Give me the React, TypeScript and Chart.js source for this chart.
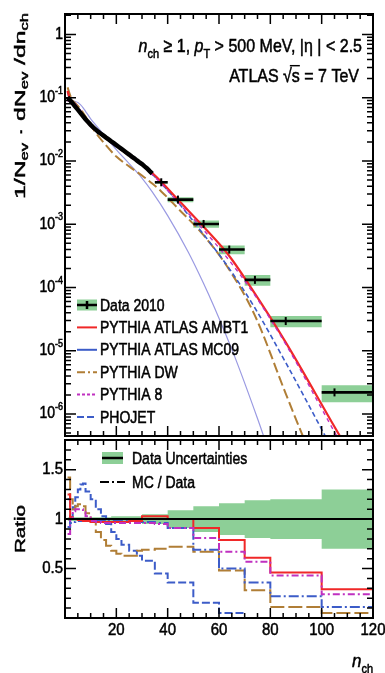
import React, { useEffect, useRef } from "react";
import { Chart, registerables } from "chart.js";

Chart.register(...registerables);

// ---------------- data ----------------
const denseN = [1, 2, 3, 4, 5, 6, 7, 8, 9, 10, 11, 12, 13, 14, 15, 16, 17, 18, 19, 20, 21, 22, 23, 24, 25, 26, 27, 28, 29, 30, 31, 32, 33, 34];
const denseValues = [0.102, 0.0912, 0.0813, 0.0724, 0.0646, 0.0575, 0.0513, 0.0457, 0.0412, 0.0372, 0.0339, 0.0313, 0.0288, 0.0269, 0.0251, 0.0234, 0.0219, 0.0204, 0.0191, 0.0178, 0.0166, 0.0155, 0.0145, 0.0135, 0.0126, 0.0117, 0.011, 0.0102, 0.0095, 0.0089, 0.0082, 0.0076, 0.0069, 0.0063];

const binLo = [35, 40, 50, 60, 70, 80, 100];
const binHi = [40, 50, 60, 70, 80, 100, 120];
const binMean = [37.5, 44, 54, 64, 74, 86, 105];
const binValues = [0.0046, 0.00245, 0.00101, 0.000398, 0.000132, 2.95e-5, 2.2e-6];
const binRelErr = [0.05, 0.09, 0.13, 0.16, 0.19, 0.2, 0.3];

const mcN = [1, 2, 3, 4, 5, 6, 7, 8, 10, 12, 15, 20, 25, 30, 34, 37.5, 44, 54, 64, 74, 86, 105, 115];
const ambt1 = [0.128, 0.0931, 0.0813, 0.0725, 0.0646, 0.057, 0.0508, 0.0447, 0.0361, 0.0303, 0.0244, 0.0173, 0.0122, 0.0087, 0.00645, 0.0047, 0.00245, 0.00091, 0.000315, 8.0e-5, 1.36e-5, 6.3e-7, 1.26e-7];
const mc09 = [0.1225, 0.0875, 0.0789, 0.071, 0.0632, 0.0563, 0.0502, 0.0447, 0.0363, 0.0306, 0.0246, 0.01745, 0.0123, 0.0087, 0.00616, 0.00444, 0.00223, 0.00069, 0.000199, 4.74e-5, 6.5e-6, 2.4e-7, 4.3e-8];
const dw = [0.1455, 0.1095, 0.0893, 0.0819, 0.0743, 0.0662, 0.058, 0.0502, 0.0371, 0.0278, 0.0196, 0.01172, 0.0082, 0.0059, 0.0044, 0.0033, 0.00178, 0.00067, 0.000191, 3.6e-5, 2.1e-6, 2.5e-8, 2e-9];
const pythia8 = [0.0869, 0.0911, 0.0877, 0.0796, 0.0709, 0.0633, 0.0548, 0.0471, 0.0363, 0.0303, 0.0241, 0.01708, 0.01207, 0.00855, 0.00606, 0.00439, 0.00223, 0.00081, 0.000267, 7.5e-5, 1.27e-5, 5.2e-7, 1.0e-7];
const phojetN = [1, 2, 3, 4, 5, 6, 7, 8, 10, 12, 15, 20, 25, 30, 34, 40, 48, 54, 58, 66, 75, 80];
const phojet = [0.092, 0.0911, 0.0893, 0.0869, 0.0839, 0.0777, 0.0698, 0.0608, 0.0464, 0.0369, 0.0264, 0.0151, 0.00905, 0.00537, 0.00324, 0.00137, 0.000365, 0.000116, 5.06e-5, 8.3e-6, 8.5e-7, 2.2e-7];

const ratioEdges = [1, 2, 3, 4, 5, 6, 7, 8, 10, 12, 14, 16, 18, 20, 22, 25, 28, 30, 35, 40, 50, 60, 70, 80, 100, 120];
const ratioAmbt1 = [1.25, 1.02, 1.0, 1.0, 0.99, 0.99, 0.98, 0.98, 0.97, 0.97, 0.97, 0.97, 0.97, 0.97, 0.97, 0.98, 0.98, 1.03, 1.03, 1.0, 0.91, 0.79, 0.61, 0.46, 0.29];
const ratioMc09 = [1.2, 0.96, 0.97, 0.98, 0.98, 0.98, 0.98, 0.98, 0.98, 0.98, 0.98, 0.99, 0.99, 0.99, 0.99, 0.98, 0.98, 0.97, 0.96, 0.91, 0.69, 0.5, 0.36, 0.22, 0.11];
const ratioDw = [1.42, 1.2, 1.1, 1.13, 1.15, 1.15, 1.13, 1.06, 0.97, 0.87, 0.79, 0.73, 0.68, 0.65, 0.63, 0.63, 0.68, 0.69, 0.7, 0.72, 0.67, 0.48, 0.28, 0.11, 0.05];
const ratioPythia8 = [0.85, 1.0, 1.08, 1.1, 1.1, 1.1, 1.07, 1.03, 0.98, 0.97, 0.96, 0.96, 0.96, 0.96, 0.96, 0.96, 0.96, 0.96, 0.95, 0.91, 0.81, 0.67, 0.57, 0.43, 0.24];
const ratioPhojet = [0.92, 1.02, 1.12, 1.22, 1.3, 1.35, 1.36, 1.28, 1.2, 1.1, 1.03, 0.95, 0.87, 0.8, 0.74, 0.68, 0.63, 0.58, 0.45, 0.36, 0.155, 0.05, null, null, null];

const bandEdges = [1, 18, 30, 40, 50, 60, 70, 80, 100, 120];
const bandHalf = [0.02, 0.03, 0.05, 0.09, 0.13, 0.16, 0.19, 0.2, 0.3];

const seriesNames = ["Data 2010", "PYTHIA ATLAS AMBT1", "PYTHIA ATLAS MC09", "PYTHIA DW", "PYTHIA 8", "PHOJET"];
const ratioLegendNames = ["Data Uncertainties", "MC / Data"];

const xTickLabels = [20, 40, 60, 80, 100, 120];
const topYTickLabels = [1, 1e-1, 1e-2, 1e-3, 1e-4, 1e-5, 1e-6];
const ratioYTickLabels = [0.5, 1, 1.5];

// ---------------- styles ----------------
const GREEN = "#8dcf97";
const RED = "#f02828";
const BLUE = "#3c5cc8";
const BROWN = "#b07e36";
const MAGENTA = "#c030c0";
const LAVENDER = "#9a9ae2";
const FONT = "'Liberation Sans', Arial, Helvetica, sans-serif";

type Pt = { x: number; y: number | null };
const pts = (xs: number[], ys: number[]): Pt[] => xs.map((x, i) => ({ x, y: ys[i] }));
const hist = (lo: number[], hi: number[], ys: (number | null)[]): Pt[] => {
  const out: Pt[] = [];
  ys.forEach((y, i) => {
    out.push({ x: lo[i], y }, { x: hi[i], y });
  });
  return out;
};
const segs = (lo: number[], hi: number[], ys: number[]): Pt[] => {
  const out: Pt[] = [];
  ys.forEach((y, i) => {
    out.push({ x: lo[i], y }, { x: hi[i], y }, { x: hi[i], y: null });
  });
  return out;
};

type Part = { t: string; sub?: boolean; sup?: boolean; it?: boolean; over?: boolean };

function fontFor(p: Part, size: number) {
  const s = p.sub || p.sup ? Math.round(size * 0.66) : size;
  return `${p.it ? "italic " : ""}${s}px ${FONT}`;
}
function measureRich(ctx: CanvasRenderingContext2D, parts: Part[], size: number) {
  let w = 0;
  parts.forEach((p) => {
    ctx.font = fontFor(p, size);
    w += ctx.measureText(p.t).width;
  });
  return w;
}
function drawRich(
  ctx: CanvasRenderingContext2D,
  parts: Part[],
  x: number,
  y: number,
  size: number,
  align: "left" | "right" | "center",
  sy = 1
) {
  const w = measureRich(ctx, parts, size);
  let cx = align === "left" ? x : align === "right" ? x - w : x - w / 2;
  ctx.save();
  ctx.translate(0, y);
  ctx.scale(1, sy);
  ctx.textAlign = "left";
  ctx.strokeStyle = ctx.fillStyle as string;
  ctx.lineWidth = 0.45;
  ctx.setLineDash([]);
  parts.forEach((p) => {
    ctx.font = fontFor(p, size);
    const mw = ctx.measureText(p.t).width;
    const dy = p.sub ? size * 0.3 : p.sup ? -size * 0.42 : 0;
    ctx.fillText(p.t, cx, dy);
    ctx.strokeText(p.t, cx, dy);
    if (p.over) {
      ctx.beginPath();
      ctx.lineWidth = 1.2;
      ctx.moveTo(cx - 2, dy - size * 0.85);
      ctx.lineTo(cx + mw, dy - size * 0.85);
      ctx.stroke();
      ctx.lineWidth = 0.45;
    }
    cx += mw;
  });
  ctx.restore();
}
function drawRotated(ctx: CanvasRenderingContext2D, parts: Part[], cx: number, cy: number, size: number, len: number) {
  ctx.save();
  ctx.translate(cx, cy);
  ctx.rotate(-Math.PI / 2);
  const w = measureRich(ctx, parts, size);
  ctx.scale(len / w, 1);
  ctx.textBaseline = "middle";
  drawRich(ctx, parts, 0, 0, size, "center");
  ctx.restore();
}

type LegendStyle = { color: string; dash: number[]; width: number };
const topLegendStyles: LegendStyle[] = [
  { color: RED, dash: [], width: 2 },
  { color: BLUE, dash: [], width: 2 },
  { color: BROWN, dash: [8, 3, 2, 3], width: 2 },
  { color: MAGENTA, dash: [3, 2], width: 2 },
  { color: BLUE, dash: [7, 3], width: 2 },
];

const decorPlugin = {
  id: "decor",
  afterDraw(chart: any, _args: any, opts: any) {
    const { ctx, chartArea: a } = chart;
    const xs = chart.scales.x;
    const ys = chart.scales.y;
    ctx.save();
    ctx.strokeStyle = "#000";
    ctx.fillStyle = "#000";
    ctx.setLineDash([]);
    ctx.lineWidth = 1.5;
    ctx.beginPath();
    for (let v = 0; v <= 120; v += 5) {
      const px = xs.getPixelForValue(v);
      const L = v % 20 === 0 ? 10 : 5;
      ctx.moveTo(px, a.bottom);
      ctx.lineTo(px, a.bottom - L);
      ctx.moveTo(px, a.top);
      ctx.lineTo(px, a.top + L);
    }
    if (opts.kind === "top") {
      for (let e = -7; e <= 0; e++) {
        for (let m = 1; m <= 9; m++) {
          const v = m * Math.pow(10, e);
          if (v < ys.min || v > ys.max) continue;
          const py = ys.getPixelForValue(v);
          const L = m === 1 ? 11 : 6;
          ctx.moveTo(a.left, py);
          ctx.lineTo(a.left + L, py);
          ctx.moveTo(a.right, py);
          ctx.lineTo(a.right - L, py);
        }
      }
    } else {
      for (let k = 0; k <= 18; k++) {
        const py = ys.getPixelForValue(k / 10);
        const L = k % 5 === 0 ? 11 : 6;
        ctx.moveTo(a.left, py);
        ctx.lineTo(a.left + L, py);
        ctx.moveTo(a.right, py);
        ctx.lineTo(a.right - L, py);
      }
    }
    ctx.stroke();
    ctx.lineWidth = 2;
    ctx.strokeRect(a.left, a.top, a.right - a.left, a.bottom - a.top);

    if (opts.kind === "top") {
      ctx.textBaseline = "middle";
      topYTickLabels.forEach((v) => {
        const py = ys.getPixelForValue(v);
        const e = Math.round(Math.log10(v));
        const parts: Part[] = e === 0 ? [{ t: "1" }] : [{ t: "10" }, { t: String(e), sup: true }];
        drawRich(ctx, parts, a.left - 2, py, 14, "right", 1.15);
      });
      drawRotated(
        ctx,
        [{ t: "1/N" }, { t: "ev", sub: true }, { t: " · dN" }, { t: "ev", sub: true }, { t: " /dn" }, { t: "ch", sub: true }],
        21,
        106,
        15,
        186
      );
      ctx.textBaseline = "alphabetic";
      drawRich(
        ctx,
        [{ t: "n", it: true }, { t: "ch", sub: true }, { t: " ≥ 1, " }, { t: "p", it: true }, { t: "T", sub: true }, { t: " > 500 MeV, |η | < 2.5" }],
        a.right - 11,
        52,
        16,
        "right",
        1.2
      );
      drawRich(ctx, [{ t: "ATLAS √" }, { t: "s", over: true }, { t: " = 7 TeV" }], a.right - 14, 82, 16, "right", 1.2);
      const lx0 = a.left + 12;
      const lx1 = a.left + 32;
      const tx = a.left + 35;
      seriesNames.forEach((name, i) => {
        const cy = 305 + i * 22.4;
        ctx.save();
        if (i === 0) {
          ctx.fillStyle = GREEN;
          ctx.fillRect(lx0, cy - 5.5, lx1 - lx0, 11);
          ctx.strokeStyle = "#000";
          ctx.lineWidth = 2.5;
          ctx.beginPath();
          ctx.moveTo(lx0, cy);
          ctx.lineTo(lx1, cy);
          ctx.moveTo((lx0 + lx1) / 2, cy - 4);
          ctx.lineTo((lx0 + lx1) / 2, cy + 4);
          ctx.stroke();
        } else {
          const s = topLegendStyles[i - 1];
          ctx.strokeStyle = s.color;
          ctx.lineWidth = s.width;
          ctx.setLineDash(s.dash);
          ctx.beginPath();
          ctx.moveTo(lx0, cy);
          ctx.lineTo(lx1, cy);
          ctx.stroke();
        }
        ctx.restore();
        ctx.fillStyle = "#000";
        ctx.textBaseline = "middle";
        drawRich(ctx, [{ t: name }], tx, cy + 1, 14, "left", 1.2);
      });
    } else {
      ctx.textBaseline = "middle";
      ratioYTickLabels.forEach((v) => {
        const py = ys.getPixelForValue(v);
        drawRich(ctx, [{ t: String(v) }], a.left - 2, py, 15, "right", 1.1);
      });
      xTickLabels.forEach((v) => {
        const px = xs.getPixelForValue(v);
        drawRich(ctx, [{ t: String(v) }], px, a.bottom + 12, 15, "center", 1.1);
      });
      drawRotated(ctx, [{ t: "Ratio" }], 21, a.top + 89, 15, 48);
      ctx.textBaseline = "alphabetic";
      drawRich(ctx, [{ t: "n", it: true }, { t: "ch", sub: true }], a.right, a.bottom + 49, 17, "right", 1.1);
      const y1 = a.top + 18;
      const y2 = a.top + 42;
      ctx.save();
      ctx.fillStyle = GREEN;
      ctx.fillRect(a.left + 37, y1 - 6, 21, 12);
      ctx.strokeStyle = "#000";
      ctx.lineWidth = 2.5;
      ctx.beginPath();
      ctx.moveTo(a.left + 37, y1);
      ctx.lineTo(a.left + 58, y1);
      ctx.stroke();
      ctx.lineWidth = 2;
      ctx.setLineDash([9, 3, 2, 3]);
      ctx.beginPath();
      ctx.moveTo(a.left + 35, y2);
      ctx.lineTo(a.left + 60, y2);
      ctx.stroke();
      ctx.restore();
      ctx.fillStyle = "#000";
      ctx.textBaseline = "middle";
      drawRich(ctx, [{ t: ratioLegendNames[0] }], a.left + 67, y1 + 1, 14, "left", 1.2);
      drawRich(ctx, [{ t: ratioLegendNames[1] }], a.left + 67, y2 + 1, 14, "left", 1.2);
    }
    ctx.restore();
  },
};

const line = (data: Pt[], color: string, width: number, dash: number[] = [], extra: any = {}) => ({
  type: "line",
  data,
  borderColor: color,
  borderWidth: width,
  borderDash: dash,
  pointRadius: 0,
  tension: 0,
  fill: false,
  spanGaps: false,
  ...extra,
});

const baseOptions = (padding: any, yScale: any, kind: string) => ({
  responsive: false,
  maintainAspectRatio: false,
  animation: false,
  devicePixelRatio: 1,
  events: [],
  layout: { padding },
  scales: {
    x: { type: "linear", min: 0, max: 120, display: false },
    y: { ...yScale, display: false },
  },
  plugins: {
    legend: { display: false },
    tooltip: { enabled: false },
    filler: { drawTime: "beforeDatasetsDraw" },
    decor: { kind },
  },
});

function topConfig(): any {
  const up = binValues.map((v, i) => v * (1 + binRelErr[i]));
  const dn = binValues.map((v, i) => v * (1 - binRelErr[i]));
  const smooth = { cubicInterpolationMode: "monotone" };
  return {
    type: "line",
    data: {
      datasets: [
        line(hist(binLo, binHi, up), "rgba(0,0,0,0)", 1, [], { order: 30 }),
        line(hist(binLo, binHi, dn), "rgba(0,0,0,0)", 1, [], { order: 29, fill: "-1", backgroundColor: GREEN }),
        line(pts(phojetN, phojet), LAVENDER, 1.2, [], { order: 9, ...smooth }),
        line(pts(mcN, dw), BROWN, 2, [10, 4], { order: 8, ...smooth }),
        line(pts(mcN, mc09), BLUE, 1.6, [5, 3], { order: 7, ...smooth }),
        line(pts(mcN, ambt1), RED, 2.2, [], { order: 6, ...smooth }),
        line(pts(mcN, pythia8), MAGENTA, 1.4, [4, 4], { order: 5, ...smooth }),
        line(segs(binLo, binHi, binValues), "#000", 2.6, [], { order: 2 }),
        line(pts(binMean, binValues), "#000", 2, [], {
          order: 1,
          showLine: false,
          pointStyle: "line",
          rotation: 90,
          pointRadius: 4,
          pointBorderWidth: 2,
          pointBorderColor: "#000",
        }),
        line(pts(denseN, denseValues), "#000", 4.5, [], { order: 0 }),
      ],
    },
    options: baseOptions({ left: 65, right: 12, top: 14, bottom: 2 }, { type: "logarithmic", min: 4.5e-7, max: 2.1 }, "top"),
    plugins: [decorPlugin],
  };
}

function ratioConfig(): any {
  const lo = ratioEdges.slice(0, -1);
  const hi = ratioEdges.slice(1);
  const blo = bandEdges.slice(0, -1);
  const bhi = bandEdges.slice(1);
  return {
    type: "line",
    data: {
      datasets: [
        line(hist(blo, bhi, bandHalf.map((h) => 1 + h)), "rgba(0,0,0,0)", 1, [], { order: 30 }),
        line(hist(blo, bhi, bandHalf.map((h) => 1 - h)), "rgba(0,0,0,0)", 1, [], { order: 29, fill: "-1", backgroundColor: GREEN }),
        line(hist(lo, hi, ratioPhojet), BLUE, 2, [8, 3], { order: 9 }),
        line(hist(lo, hi, ratioDw), BROWN, 2, [14, 4], { order: 8 }),
        line(hist(lo, hi, ratioMc09), BLUE, 2, [10, 3, 2, 3], { order: 7 }),
        line(hist(lo, hi, ratioAmbt1), RED, 2, [], { order: 6 }),
        line(hist(lo, hi, ratioPythia8), MAGENTA, 2, [7, 3, 2, 3], { order: 5 }),
        line(pts([0, 120], [1, 1]), "#000", 2, [], { order: 1 }),
      ],
    },
    options: baseOptions({ left: 65, right: 12, top: 2, bottom: 55 }, { type: "linear", min: 0, max: 1.8 }, "ratio"),
    plugins: [decorPlugin],
  };
}

export default function App() {
  const topRef = useRef<HTMLCanvasElement>(null);
  const botRef = useRef<HTMLCanvasElement>(null);
  useEffect(() => {
    const top = new Chart(topRef.current as HTMLCanvasElement, topConfig());
    const bot = new Chart(botRef.current as HTMLCanvasElement, ratioConfig());
    return () => {
      top.destroy();
      bot.destroy();
    };
  }, []);
  return (
    <div style={{ position: "fixed", left: 0, top: 0, width: 385, height: 673, background: "#fff", overflow: "hidden" }}>
      <canvas
        ref={topRef}
        width={385}
        height={442}
        style={{ position: "absolute", left: 0, top: 0, width: 385, height: 442, display: "block" }}
      />
      <canvas
        ref={botRef}
        width={385}
        height={235}
        style={{ position: "absolute", left: 0, top: 438, width: 385, height: 235, display: "block" }}
      />
    </div>
  );
}
